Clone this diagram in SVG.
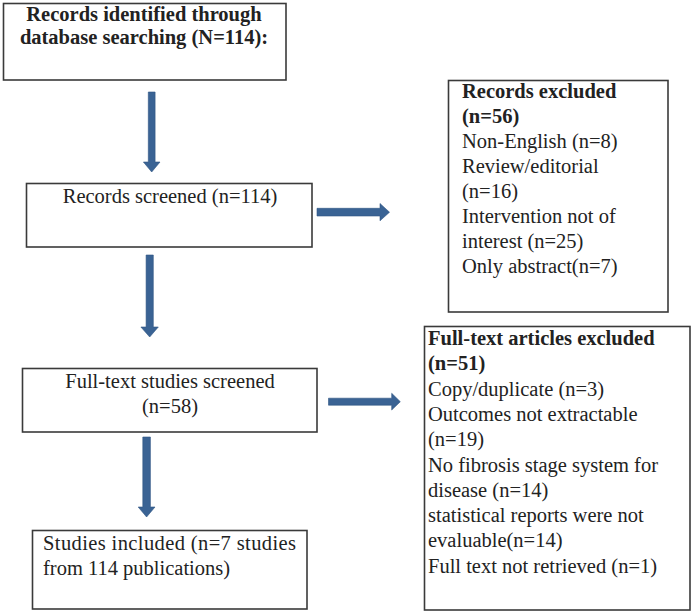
<svg xmlns="http://www.w3.org/2000/svg" width="693" height="613" viewBox="0 0 693 613">
<style>
.box{fill:#fff;stroke:#3a3a3a;stroke-width:1.6}
.t{font-family:"Liberation Serif","Times New Roman",serif;font-size:20.5px;fill:#222}
.b{font-weight:bold}
.c{text-anchor:middle}
.arr{fill:#3a6394;stroke:#2f5583;stroke-width:0.6}
</style>
<rect width="693" height="613" fill="#fff"/>
<g id="connectors">
<polygon class="arr" points="148.3,92 155.1,92 155.1,162 160,162 151.7,172 143.4,162 148.3,162"/>
<polygon class="arr" points="146.1,255 153.3,255 153.3,327 158.3,327 149.7,337 140.9,327 146.1,327"/>
<polygon class="arr" points="142.8,437 150.4,437 150.4,507 155,507 146.6,517 138.2,507 142.8,507"/>
<polygon class="arr" points="317,208.3 380,208.3 380,203.5 389.5,212.2 380,220.8 380,216 317,216"/>
<polygon class="arr" points="328.5,398.2 391.7,398.2 391.7,393.3 400.3,401.7 391.7,410 391.7,405.2 328.5,405.2"/>
</g>
<g id="n1">
<rect class="box" x="3.5" y="3.5" width="282.5" height="76.5"/>
<text class="t b c" x="144" y="21">Records identified through</text>
<text class="t b c" x="144" y="44">database searching (N=114):</text>
</g>
<g id="n2">
<rect class="box" x="26.5" y="183.5" width="285.5" height="63.5"/>
<text class="t c" x="170" y="203">Records screened (n=114)</text>
</g>
<g id="n3">
<rect class="box" x="22.5" y="368.5" width="294.5" height="63.5"/>
<text class="t c" x="170" y="388">Full-text studies screened</text>
<text class="t c" x="170" y="413">(n=58)</text>
</g>
<g id="n4">
<rect class="box" x="32.5" y="530.5" width="274.5" height="78.5"/>
<text class="t" x="43" y="550" textLength="253" lengthAdjust="spacing">Studies included (n=7 studies</text>
<text class="t" x="43" y="575">from 114 publications)</text>
</g>
<g id="n5">
<rect class="box" x="448.5" y="80.5" width="219.5" height="231.5"/>
<text class="t b" x="462" y="98">Records excluded</text>
<text class="t b" x="462" y="123">(n=56)</text>
<text class="t" x="462" y="148">Non-English (n=8)</text>
<text class="t" x="462" y="173">Review/editorial</text>
<text class="t" x="462" y="198">(n=16)</text>
<text class="t" x="462" y="223">Intervention not of</text>
<text class="t" x="462" y="248">interest (n=25)</text>
<text class="t" x="462" y="273">Only abstract(n=7)</text>
</g>
<g id="n6">
<rect class="box" x="424.5" y="326.5" width="265.5" height="283.5"/>
<text class="t b" x="428" y="345">Full-text articles excluded</text>
<text class="t b" x="428" y="370.3">(n=51)</text>
<text class="t" x="428" y="395.6">Copy/duplicate (n=3)</text>
<text class="t" x="428" y="420.9">Outcomes not extractable</text>
<text class="t" x="428" y="446.2">(n=19)</text>
<text class="t" x="428" y="471.5">No fibrosis stage system for</text>
<text class="t" x="428" y="496.8">disease (n=14)</text>
<text class="t" x="428" y="522.1">statistical reports were not</text>
<text class="t" x="428" y="547.4">evaluable(n=14)</text>
<text class="t" x="428" y="572.7">Full text not retrieved (n=1)</text>
</g>
</svg>
